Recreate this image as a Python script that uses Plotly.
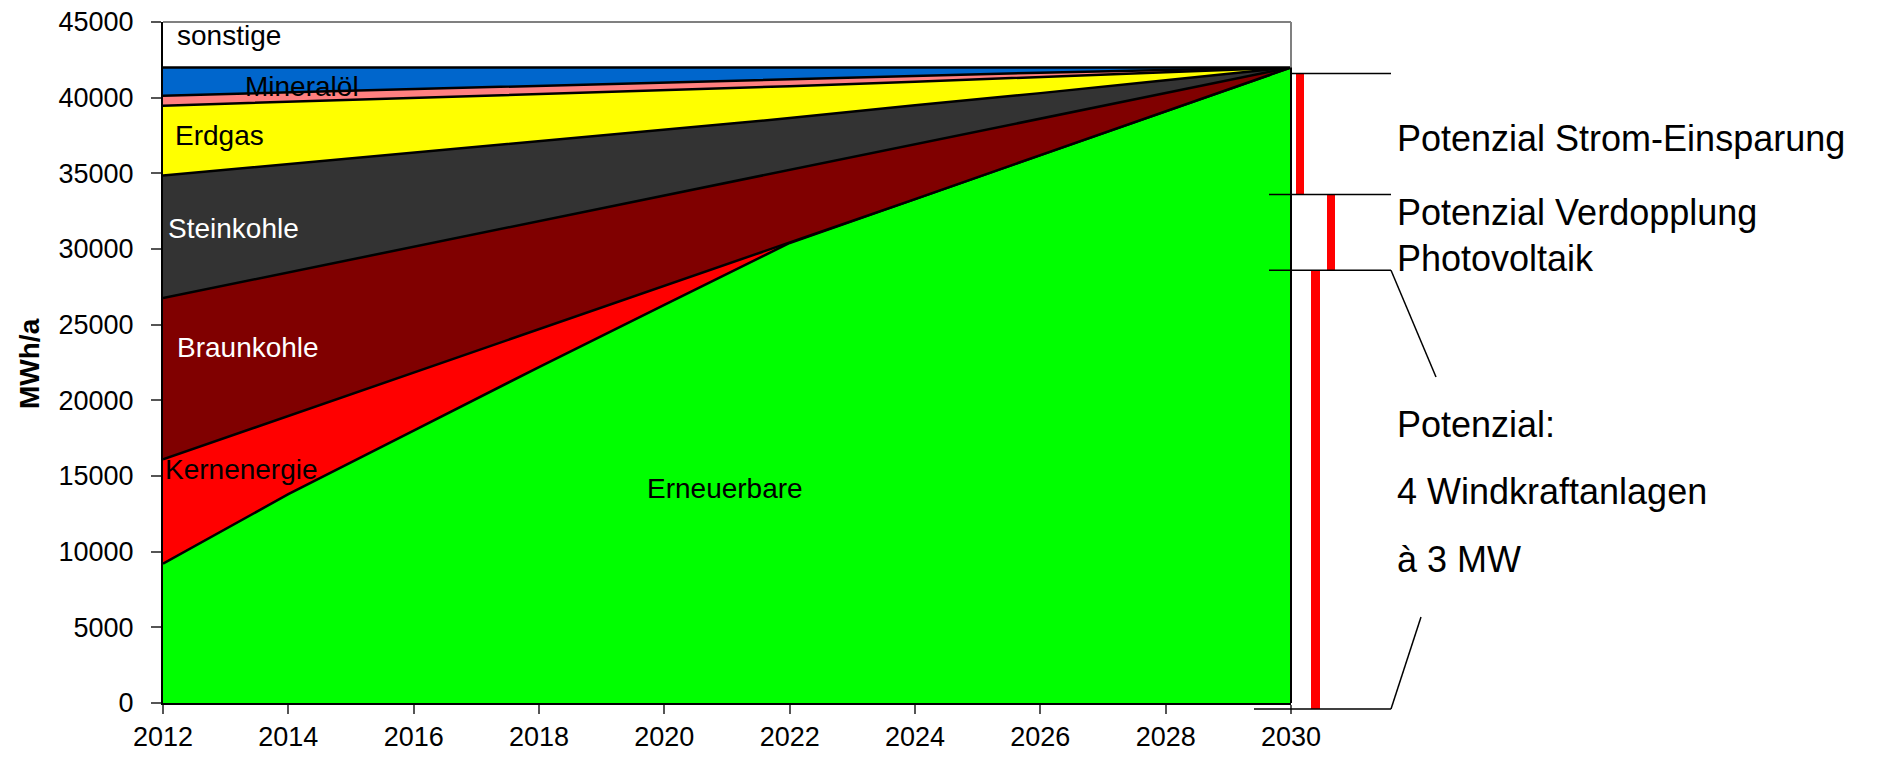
import plotly.graph_objects as go

# ---------------- data (MWh/a) ----------------
years = [2012, 2014, 2016, 2018, 2020, 2022, 2024, 2026, 2028, 2030]
erneuerbare = [9200, 13800, 18000, 22200, 26300, 30400, 33300, 36200, 39100, 42000]
kernenergie = [6900, 5160, 3820, 2480, 1240, 0, 0, 0, 0, 0]
braunkohle = [10660, 9490, 8330, 7160, 6000, 4830, 3630, 2420, 1210, 0]
steinkohle = [8090, 7150, 6200, 5310, 4360, 3420, 2570, 1680, 840, 0]
erdgas = [4620, 4120, 3610, 3060, 2580, 2110, 1550, 1050, 530, 0]
sonstige_fossile = [660, 630, 610, 590, 550, 490, 400, 300, 150, 0]
mineraloel = [1870, 1650, 1430, 1200, 970, 750, 550, 350, 170, 0]
sonstige = [3000, 3000, 3000, 3000, 3000, 3000, 3000, 3000, 3000, 3000]

y_ticks = [0, 5000, 10000, 15000, 20000, 25000, 30000, 35000, 40000, 45000]
x_ticks = [2012, 2014, 2016, 2018, 2020, 2022, 2024, 2026, 2028, 2030]

# potential levels shown at the right of the chart
pot_levels = [41600, 33600, 28600, -400]
pot_texts = ["Potenzial Strom-Einsparung", "Potenzial Verdopplung", "Photovoltaik",
             "Potenzial:", "4 Windkraftanlagen", "à 3 MW"]

series = [
    ("Erneuerbare", erneuerbare, "#00FF00"),
    ("Kernenergie", kernenergie, "#FF0000"),
    ("Braunkohle", braunkohle, "#800000"),
    ("Steinkohle", steinkohle, "#333333"),
    ("Erdgas", erdgas, "#FFFF00"),
    ("sonstige fossile", sonstige_fossile, "#FF8080"),
    ("Mineralöl", mineraloel, "#0066CC"),
]

# ---------------- geometry ----------------
W, H = 1881, 760
L, R, T, B = 163, 590, 22, 57
PW, PH = W - L - R, H - T - B
YMAX = 45000
FONT = "Liberation Sans, Arial, sans-serif"


def px(x):
    return (x - L) / PW


def py(y):
    return (H - B - y) / PH


def vy(v):
    return v / YMAX


fig = go.Figure()
for name, vals, col in series:
    fig.add_trace(go.Scatter(
        x=years, y=vals, name=name, mode="lines", stackgroup="one",
        line=dict(color="black", width=2.5), fillcolor=col, hoverinfo="x+y+name"))
fig.add_trace(go.Scatter(
    x=years, y=sonstige, name="sonstige", mode="lines", stackgroup="one",
    line=dict(color="white", width=0), fillcolor="white", hoverinfo="skip"))

totals = [sum(v[i] for _, v, _ in series) for i in range(len(years))]

shapes = []
# plot frame (top / right in grey)
shapes.append(dict(type="line", xref="paper", yref="paper", x0=0, x1=1, y0=1, y1=1,
                   line=dict(color="#808080", width=2)))
shapes.append(dict(type="line", xref="paper", yref="paper", x0=1, x1=1, y0=0, y1=1,
                   line=dict(color="#808080", width=2)))
# right edge of the area stack
shapes.append(dict(type="line", xref="paper", yref="paper", x0=1, x1=1, y0=0,
                   y1=vy(totals[-1]), line=dict(color="black", width=2)))

# red potential bars
bars = [(1296, 1304, pot_levels[0], pot_levels[1]),
        (1327, 1335, pot_levels[1], pot_levels[2]),
        (1311, 1320, pot_levels[2], pot_levels[3])]
for x0, x1, v0, v1 in bars:
    shapes.append(dict(type="rect", xref="paper", yref="paper", x0=px(x0), x1=px(x1),
                       y0=vy(v1), y1=vy(v0), fillcolor="#FF0000", line=dict(width=0)))

# bracket lines
lk = dict(color="black", width=1.5)
shapes.append(dict(type="line", xref="paper", yref="paper", x0=px(1291), x1=px(1391),
                   y0=vy(pot_levels[0]), y1=vy(pot_levels[0]), line=lk))
shapes.append(dict(type="line", xref="paper", yref="paper", x0=px(1269), x1=px(1391),
                   y0=vy(pot_levels[1]), y1=vy(pot_levels[1]), line=lk))
shapes.append(dict(type="line", xref="paper", yref="paper", x0=px(1269), x1=px(1391),
                   y0=vy(pot_levels[2]), y1=vy(pot_levels[2]), line=lk))
shapes.append(dict(type="line", xref="paper", yref="paper", x0=px(1391), x1=px(1436),
                   y0=vy(pot_levels[2]), y1=py(377), line=lk))
shapes.append(dict(type="line", xref="paper", yref="paper", x0=px(1254), x1=px(1391),
                   y0=vy(pot_levels[3]), y1=vy(pot_levels[3]), line=lk))
shapes.append(dict(type="line", xref="paper", yref="paper", x0=px(1391), x1=px(1421),
                   y0=vy(pot_levels[3]), y1=py(617), line=lk))

ann = []


def label(text, x, y, size=28, color="black", bold=False):
    ann.append(dict(text=("<b>%s</b>" % text) if bold else text, xref="paper", yref="paper",
                    x=px(x), y=py(y), xanchor="left", yanchor="middle", showarrow=False,
                    font=dict(family=FONT, size=size, color=color), borderpad=0))


label("sonstige", 176, 35.5)
label("Mineralöl", 244, 87)
label("Erdgas", 174, 135.5)
label("Steinkohle", 167, 228.5, color="white")
label("Braunkohle", 176, 347, color="white")
label("Kernenergie", 164, 469.5)
label("Erneuerbare", 646, 488)

rx = 1396
for t, yy in zip(pot_texts, [138, 213, 258, 424.5, 491, 559.5]):
    label(t, rx, yy, size=36)

ann.append(dict(text="<b>MWh/a</b>", xref="paper", yref="paper", x=px(29), y=py(364),
                xanchor="center", yanchor="middle", textangle=-90, showarrow=False,
                font=dict(family=FONT, size=28, color="black")))

fig.update_layout(
    width=W, height=H, margin=dict(l=L, r=R, t=T, b=B, pad=0, autoexpand=False),
    paper_bgcolor="white", plot_bgcolor="white", showlegend=False,
    shapes=shapes, annotations=ann,
    font=dict(family=FONT, size=27, color="black"),
    xaxis=dict(range=[2012, 2030], tickvals=x_ticks, ticktext=[str(v) for v in x_ticks],
               showgrid=False, zeroline=False, showline=True, linecolor="black",
               linewidth=2, ticks="outside", ticklen=9, tickwidth=1.5, tickcolor="#555555",
               tickfont=dict(family=FONT, size=27), ticklabelstandoff=0, automargin=False),
    yaxis=dict(range=[0, YMAX], tickvals=y_ticks, ticktext=[str(v) for v in y_ticks],
               showgrid=False, zeroline=False, showline=True, linecolor="black",
               linewidth=2, ticks="outside", ticklen=10, tickwidth=1.5, tickcolor="#555555",
               tickfont=dict(family=FONT, size=27), ticklabelstandoff=12, automargin=False),
)

fig.write_html("out.html")
